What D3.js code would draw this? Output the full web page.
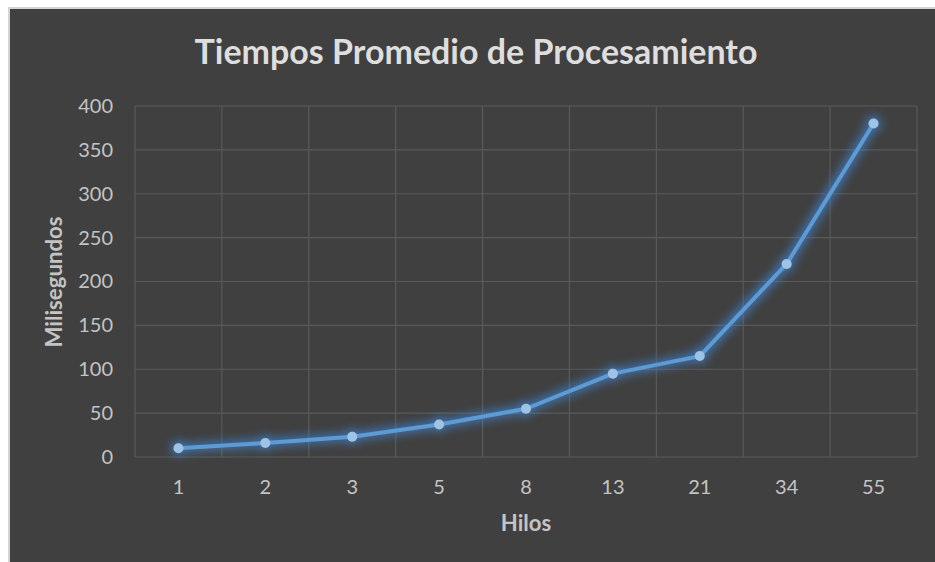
<!DOCTYPE html>
<html>
<head>
<meta charset="utf-8">
<script src="https://cdn.jsdelivr.net/npm/d3@7"></script>
<style>
  html, body { margin: 0; padding: 0; background: #ffffff; }
  svg { display: block; }
</style>
</head>
<body>
<svg id="chart" width="935" height="562"></svg>
<script>
// Average processing time per thread count
const threads = ["1", "2", "3", "5", "8", "13", "21", "34", "55"];
const millis = [10, 16, 23, 37, 55, 95, 115, 220, 380];
const yTicks = [0, 50, 100, 150, 200, 250, 300, 350, 400];

const chartTitle = "Tiempos Promedio de Procesamiento";
const xTitle = "Hilos";
const yTitle = "Milisegundos";

const W = 935, H = 562;
const plot = { left: 135, right: 917, top: 106, bottom: 457 };
const FONT = "Lato, 'Open Sans', sans-serif";
const TICK_SIZE = 20;

const svg = d3.select("#chart");

// glow filter for the series
const defs = svg.append("defs");
const glow = defs.append("filter").attr("id", "glow")
  .attr("x", "-20%").attr("y", "-20%").attr("width", "140%").attr("height", "140%");
glow.append("feMorphology").attr("in", "SourceAlpha").attr("operator", "dilate").attr("radius", 2).attr("result", "fat");
glow.append("feGaussianBlur").attr("in", "fat").attr("stdDeviation", 5).attr("result", "blur");
glow.append("feFlood").attr("flood-color", "#3f86d6").attr("flood-opacity", 0.75).attr("result", "col");
glow.append("feComposite").attr("in", "col").attr("in2", "blur").attr("operator", "in").attr("result", "glowCol");
const merge = glow.append("feMerge");
merge.append("feMergeNode").attr("in", "glowCol");
merge.append("feMergeNode").attr("in", "SourceGraphic");

// chart background and frame
svg.append("rect").attr("x", 9).attr("y", 8).attr("width", W + 20).attr("height", H + 20)
  .attr("fill", "#404040").attr("stroke", "#d4d4d4").attr("stroke-width", 2);

const x = d3.scaleBand().domain(threads).range([plot.left, plot.right]);
const y = d3.scaleLinear().domain([0, 400]).range([plot.bottom, plot.top]);

// gridlines
const grid = svg.append("g").attr("stroke", "#5a5a5a").attr("stroke-width", 1.2);
grid.selectAll("line.h").data(yTicks).join("line").attr("class", "h")
  .attr("x1", plot.left).attr("x2", plot.right)
  .attr("y1", d => y(d)).attr("y2", d => y(d));
const vLines = threads.map(t => x(t)).concat([plot.right]);
grid.selectAll("line.v").data(vLines).join("line").attr("class", "v")
  .attr("x1", d => d).attr("x2", d => d)
  .attr("y1", plot.top).attr("y2", plot.bottom);

// y axis
const yAxis = svg.append("g").attr("transform", `translate(${plot.left - 22},0)`)
  .call(d3.axisLeft(y).tickValues(yTicks).tickSize(0).tickPadding(0));
yAxis.select(".domain").remove();
yAxis.selectAll("text").attr("fill", "#c4c4c4").attr("font-size", TICK_SIZE).attr("font-family", FONT);

// x axis
const xAxis = svg.append("g").attr("transform", `translate(0,${plot.bottom + 23})`)
  .call(d3.axisBottom(x).tickSize(0).tickPadding(0));
xAxis.select(".domain").remove();
xAxis.selectAll("text").attr("fill", "#c4c4c4").attr("font-size", TICK_SIZE).attr("font-family", FONT);

// titles
const t = svg.append("text").attr("x", 476).attr("y", 64).attr("text-anchor", "middle")
  .attr("fill", "#dedede").attr("font-family", FONT).attr("font-weight", 700)
  .attr("font-size", 29).text(chartTitle);
const tw = t.node().getComputedTextLength();
t.attr("font-size", 29 * 563 / tw);

const yt = svg.append("text").attr("transform", "translate(62,282) rotate(-90)").attr("text-anchor", "middle")
  .attr("fill", "#c4c4c4").attr("font-family", FONT).attr("font-weight", 700)
  .attr("font-size", 20).text(yTitle);
const axisTitleSize = 20 * 131 / yt.node().getComputedTextLength();
yt.attr("font-size", axisTitleSize);

svg.append("text").attr("x", 526).attr("y", 531).attr("text-anchor", "middle")
  .attr("fill", "#c4c4c4").attr("font-family", FONT).attr("font-weight", 700)
  .attr("font-size", axisTitleSize).text(xTitle);

// series line and markers
const cx = d => x(d) + x.bandwidth() / 2;
const pts = threads.map((d, i) => [cx(d), y(millis[i])]);
const series = svg.append("g").attr("filter", "url(#glow)");
series.append("path").attr("d", d3.line()(pts))
  .attr("fill", "none").attr("stroke", "#5b9bd5").attr("stroke-width", 4)
  .attr("stroke-linejoin", "round").attr("stroke-linecap", "round");
series.selectAll("circle").data(pts).join("circle")
  .attr("cx", d => d[0]).attr("cy", d => d[1]).attr("r", 5)
  .attr("fill", "#9dc3e6");
</script>
</body>
</html>
